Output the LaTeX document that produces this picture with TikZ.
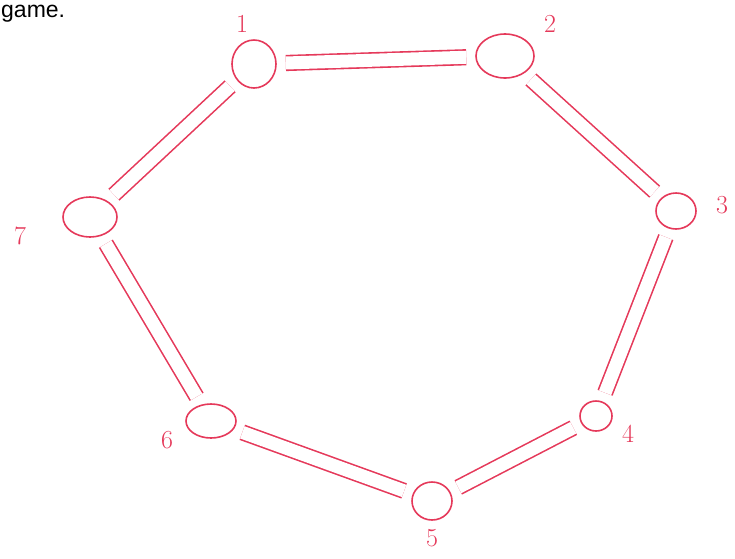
\documentclass[tikz,border=0pt]{standalone}
\usetikzlibrary{positioning, shapes.geometric}
\usepackage{fontspec}
\setsansfont{Liberation Sans}
\definecolor{penred}{HTML}{E5395A}

\begin{document}
\begin{tikzpicture}[
      x=1pt, y=-1pt,
      every node/.style={inner sep=0pt},
      ring/.style={draw=penred, ellipse, line width=1.6pt},
      link/.style={draw=penred, line width=1.6pt, double=white, double distance=13pt, shorten <=9pt, shorten >=9pt},
      tag/.style={text=penred, font=\fontsize{26}{28}\selectfont},
    ]
    \useasboundingbox (0,0) rectangle (735,558);
    \node[font=\sffamily\fontsize{23}{25}\selectfont, anchor=base west] (cap) at (1,17) {game.};

    % the seven rings
    \node[ring, minimum width=44pt, minimum height=48pt] (n1) at (254,64) {};
    \node[ring, minimum width=58pt, minimum height=44pt] (n2) at (505,56) {};
    \node[ring, minimum width=40pt, minimum height=36pt] (n3) at (676,211) {};
    \node[ring, minimum width=32pt, minimum height=30pt] (n4) at (596,416) {};
    \node[ring, minimum width=40pt, minimum height=38pt] (n5) at (432,501) {};
    \node[ring, minimum width=50pt, minimum height=34pt] (n6) at (211,421) {};
    \node[ring, minimum width=54pt, minimum height=40pt] (n7) at (90,217) {};

    % numbers
    \node[tag] (l1) at (242,24) {1};
    \node[tag] (l2) at (550,24) {2};
    \node[tag] (l3) at (722,205) {3};
    \node[tag] (l4) at (628,434) {4};
    \node[tag] (l5) at (432,538) {5};
    \node[tag] (l6) at (167,440) {6};
    \node[tag] (l7) at (20,236) {7};

    % double strokes
    \draw[link] (n1) -- (n2);
    \draw[link] (n2) -- (n3);
    \draw[link] (n3) -- (n4);
    \draw[link] (n4) -- (n5);
    \draw[link] (n5) -- (n6);
    \draw[link] (n6) -- (n7);
    \draw[link] (n7) -- (n1);
  \end{tikzpicture}
\end{document}
